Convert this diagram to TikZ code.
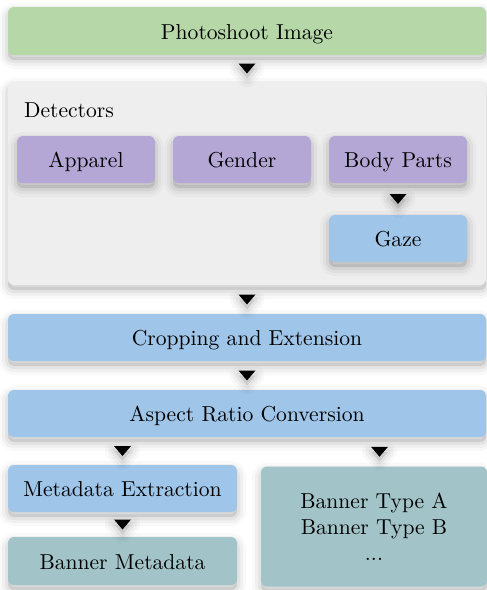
\documentclass[tikz,border=0pt]{standalone}

\definecolor{shootgreen}{HTML}{B6D7A8}
\definecolor{detgray}{HTML}{EEEEEE}
\definecolor{detpurple}{HTML}{B4A7D6}
\definecolor{stepblue}{HTML}{9FC5E8}
\definecolor{outteal}{HTML}{A2C4C9}

\begin{document}
\begin{tikzpicture}[
    x=0.5pt, y=-0.5pt,
    softshadow/.style={
        preaction={fill=black, fill opacity=0.10, transform canvas={yshift=-2.5pt}},
        preaction={draw=black, draw opacity=0.025, line width=9pt, line join=round,
            transform canvas={yshift=-2.5pt}},
        preaction={draw=black, draw opacity=0.035, line width=6pt, line join=round,
            transform canvas={yshift=-2.5pt}},
        preaction={draw=black, draw opacity=0.05, line width=3pt, line join=round,
            transform canvas={yshift=-2.5pt}}},
    box/.style={rectangle, rounded corners=3pt, inner sep=0pt, softshadow,
        font=\fontsize{10.8}{13}\selectfont, align=center},
    label/.style={text height=9pt, text depth=1pt},
    widebox/.style={box, label, minimum width=239pt, minimum height=23.5pt},
    smallbox/.style={box, label, fill=detpurple, minimum width=69pt, minimum height=23.5pt},
    halfbox/.style={box, label, minimum width=114.5pt, minimum height=23.5pt},
    tri/.pic={\fill[softshadow] (-8.5,-5) -- (8.5,-5) -- (0,5) -- cycle;}
]
    % --- input ---
    \node[widebox, fill=shootgreen, minimum height=24pt] (photo) at (247, 31) {Photoshoot Image};

    % --- detectors ---
    \node[box, fill=detgray, minimum width=239pt, minimum height=101.5pt] (detectors) at (247, 183.5) {};
    \node[anchor=west, font=\fontsize{10.8}{13}\selectfont] (dettitle) at (17, 110) {Detectors};
    \node[smallbox] (apparel) at (86, 159.5) {Apparel};
    \node[smallbox] (gender) at (242, 159.5) {Gender};
    \node[smallbox] (body) at (398, 159.5) {Body Parts};
    \node[box, label, fill=stepblue, minimum width=69pt, minimum height=23.5pt] (gaze) at (398, 238.5) {Gaze};

    % --- processing ---
    \node[widebox, fill=stepblue] (crop) at (247, 337.5) {Cropping and Extension};
    \node[widebox, fill=stepblue] (aspect) at (247, 413.5) {Aspect Ratio Conversion};

    % --- outputs ---
    \node[halfbox, fill=stepblue] (metaext) at (122.5, 488.5) {Metadata Extraction};
    \node[halfbox, fill=outteal, minimum height=24pt] (bannermeta) at (122.5, 561) {Banner Metadata};
    \node[box, fill=outteal, minimum width=113pt, minimum height=60pt] (banners) at (374, 526.5)
        {Banner Type A\\Banner Type B\\...};

    % --- flow marks ---
    \path (photo.south) -- (detectors.north) pic[midway] {tri};
    \path (body.south) -- (gaze.north) pic[midway] {tri};
    \path (detectors.south) -- (crop.north) pic[midway] {tri};
    \path (crop.south) -- (aspect.north) pic[midway] {tri};
    \path (aspect.south -| metaext.north) -- (metaext.north) pic[midway] {tri};
    \path ([xshift=2.75pt]aspect.south -| banners.north) -- ([xshift=2.75pt]banners.north) pic[midway] {tri};
    \path (metaext.south) -- (bannermeta.north) pic[midway] {tri};

    \useasboundingbox (0, 0) rectangle (487, 590);
\end{tikzpicture}
\end{document}
